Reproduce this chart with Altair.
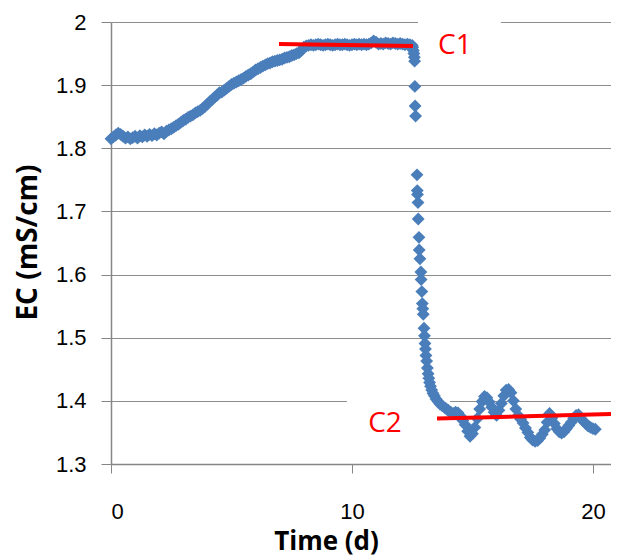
import altair as alt
import pandas as pd

# ---- data ----
rise_t = [0.0, 0.1, 0.2, 0.3, 0.4, 0.5, 0.6, 0.7, 0.8, 0.9, 1.0,
          1.1, 1.2, 1.3, 1.4, 1.5, 1.6, 1.7, 1.8, 1.9, 2.0,
          2.1, 2.2, 2.3, 2.4, 2.5, 2.6, 2.7, 2.8, 2.9, 3.0,
          3.1, 3.2, 3.3, 3.4, 3.5, 3.6, 3.7, 3.8, 3.9, 4.0,
          4.1, 4.2, 4.3, 4.4, 4.5, 4.6, 4.7, 4.8, 4.9, 5.0,
          5.1, 5.2, 5.3, 5.4, 5.5, 5.6, 5.7, 5.8, 5.9, 6.0,
          6.1, 6.2, 6.3, 6.4, 6.5, 6.6, 6.7, 6.8, 6.9, 7.0,
          7.1, 7.2, 7.3, 7.4, 7.5, 7.6, 7.7, 7.8, 7.9, 8.0]
rise_ec = [1.815, 1.818, 1.821, 1.824, 1.822, 1.819, 1.816, 1.818, 1.815, 1.817, 1.819,
           1.816, 1.820, 1.818, 1.821, 1.819, 1.822, 1.820, 1.823, 1.821, 1.824,
           1.826, 1.823, 1.827, 1.829, 1.831, 1.833, 1.836, 1.838, 1.841, 1.844,
           1.846, 1.849, 1.851, 1.853, 1.856, 1.858, 1.860, 1.863, 1.866, 1.870,
           1.874, 1.877, 1.881, 1.884, 1.888, 1.889, 1.892, 1.895, 1.898, 1.901,
           1.903, 1.905, 1.907, 1.909, 1.911, 1.914, 1.916, 1.918, 1.921, 1.924,
           1.926, 1.928, 1.930, 1.932, 1.934, 1.935, 1.937, 1.938, 1.939, 1.940,
           1.941, 1.943, 1.944, 1.945, 1.947, 1.948, 1.950, 1.951, 1.955, 1.960]

plateau_t = [8.1, 8.2, 8.3, 8.4, 8.5, 8.6, 8.7, 8.8, 8.9, 9.0,
             9.1, 9.2, 9.3, 9.4, 9.5, 9.6, 9.7, 9.8, 9.9, 10.0,
             10.1, 10.2, 10.3, 10.4, 10.5, 10.6, 10.7, 10.8, 10.9, 11.0,
             11.1, 11.2, 11.3, 11.4, 11.5, 11.6, 11.7, 11.8, 11.9, 12.0,
             12.1, 12.2, 12.3, 12.4, 12.5]
plateau_ec = [1.962, 1.963, 1.964, 1.963, 1.964, 1.965, 1.964, 1.963, 1.964, 1.965,
              1.964, 1.963, 1.964, 1.965, 1.964, 1.964, 1.965, 1.964, 1.963, 1.964,
              1.965, 1.964, 1.965, 1.964, 1.965, 1.964, 1.965, 1.967, 1.970, 1.968,
              1.965, 1.966, 1.965, 1.967, 1.966, 1.965, 1.967, 1.966, 1.965, 1.966,
              1.965, 1.964, 1.965, 1.964, 1.963]

drop_t = [12.52, 12.55, 12.57, 12.59, 12.60, 12.61, 12.62, 12.64, 12.70, 12.71,
          12.72, 12.74, 12.75, 12.78, 12.79, 12.82, 12.86, 12.87, 12.90, 12.92,
          12.94, 12.96, 12.99, 13.01, 13.03, 13.05, 13.07, 13.10, 13.13, 13.16,
          13.19, 13.22, 13.26, 13.31, 13.36, 13.42, 13.49, 13.57, 13.65, 13.75,
          13.86, 13.95]
drop_ec = [1.960, 1.955, 1.950, 1.944, 1.938, 1.898, 1.867, 1.851, 1.758, 1.733,
           1.727, 1.714, 1.688, 1.659, 1.639, 1.625, 1.604, 1.592, 1.573, 1.554,
           1.546, 1.537, 1.515, 1.503, 1.491, 1.482, 1.472, 1.463, 1.452, 1.443,
           1.436, 1.429, 1.423, 1.417, 1.412, 1.408, 1.403, 1.399, 1.395, 1.392,
           1.389, 1.386]

tail_t = [14.0, 14.1, 14.2, 14.3, 14.4, 14.5, 14.6, 14.7, 14.8, 14.9,
          15.0, 15.1, 15.2, 15.3, 15.4, 15.5, 15.6, 15.7, 15.8, 15.9,
          16.0, 16.1, 16.2, 16.3, 16.4, 16.5, 16.6, 16.7, 16.8, 16.9,
          17.0, 17.1, 17.2, 17.3, 17.4, 17.5, 17.6, 17.7, 17.8, 17.9,
          18.0, 18.1, 18.2, 18.3, 18.4, 18.5, 18.6, 18.7, 18.8, 18.9,
          19.0, 19.1, 19.2, 19.3, 19.4, 19.5, 19.6, 19.7, 19.8, 19.9,
          20.0, 20.1]
tail_ec = [1.385, 1.382, 1.380, 1.382, 1.381, 1.376, 1.369, 1.362, 1.352, 1.344,
           1.348, 1.358, 1.372, 1.387, 1.399, 1.407, 1.405, 1.398, 1.390, 1.382,
           1.377, 1.385, 1.396, 1.408, 1.417, 1.418, 1.413, 1.400, 1.387, 1.377,
           1.371, 1.365, 1.357, 1.350, 1.342, 1.338, 1.336, 1.337, 1.341, 1.347,
           1.354, 1.366, 1.380, 1.373, 1.364, 1.356, 1.351, 1.349, 1.351, 1.356,
           1.361, 1.366, 1.372, 1.377, 1.378, 1.372, 1.368, 1.364, 1.360, 1.358,
           1.356, 1.355]

# red reference lines C1, C2
line_name = ["C1", "C1", "C2", "C2"]
line_t = [6.97, 12.53, 13.53, 20.75]
line_ec = [1.965, 1.962, 1.372, 1.379]

# labels
label_text = ["C1", "C2"]
label_t = [14.27, 11.37]
label_ec = [1.962, 1.363]

# white label boxes (cover grid lines)
box_t0 = [12.74, 9.79]
box_t1 = [16.18, 14.07]
box_ec0 = [1.93, 1.36]
box_ec1 = [2.0, 1.42]

x_ticks = [0, 10, 20]
y_ticks = [1.3, 1.4, 1.5, 1.6, 1.7, 1.8, 1.9, 2.0]

# ---- build tables ----
pts = pd.DataFrame({
    "t": rise_t + plateau_t + drop_t + tail_t,
    "ec": rise_ec + plateau_ec + drop_ec + tail_ec,
})
lines = pd.DataFrame({"name": line_name, "t": line_t, "ec": line_ec})
labels = pd.DataFrame({"text": label_text, "t": label_t, "ec": label_ec})
boxes = pd.DataFrame({"t0": box_t0, "t1": box_t1, "e0": box_ec0, "e1": box_ec1})

FONT = "Open Sans"
LABEL_FONT = "Liberation Sans"

xscale = alt.Scale(domain=[0, 20.75], nice=False, zero=False)
yscale = alt.Scale(domain=[1.3, 2.0], nice=False, zero=False)

xaxis = alt.Axis(
    values=x_ticks, title="Time (d)", grid=False,
    tickSize=9, tickColor="#868686", domainColor="#868686", domainWidth=1.5,
    labelFontSize=22, labelFont=LABEL_FONT, labelColor="#000000", labelPadding=28,
    titleFont=FONT, titleFontSize=26, titleFontWeight="bold", titleColor="#000000",
    titleX=215, titleY=77, titleAlign="center", titleBaseline="middle",
)
yaxis = alt.Axis(
    values=y_ticks, title="EC (mS/cm)", format=".1~f",
    grid=True, gridColor="#8c8c8c", gridWidth=1.2,
    tickSize=10, tickColor="#868686", domainColor="#868686", domainWidth=1.5,
    labelFontSize=22, labelFont=LABEL_FONT, labelColor="#000000", labelPadding=15,
    titleFont=FONT, titleFontSize=28, titleFontWeight="bold", titleColor="#000000",
    titleX=-83, titleY=220, titleAngle=270, titleAlign="center", titleBaseline="middle",
)

box_layer = alt.Chart(boxes).mark_rect(color="white").encode(
    x=alt.X("t0:Q", scale=xscale, axis=xaxis),
    x2="t1:Q",
    y=alt.Y("e0:Q", scale=yscale, axis=yaxis),
    y2="e1:Q",
)

pts_layer = alt.Chart(pts).mark_point(
    shape="diamond", filled=True, size=165, color="#4a7ebb", opacity=1
).encode(
    x=alt.X("t:Q", scale=xscale, axis=xaxis),
    y=alt.Y("ec:Q", scale=yscale, axis=yaxis),
)

line_layer = alt.Chart(lines).mark_line(color="#ff0000", strokeWidth=4).encode(
    x=alt.X("t:Q", scale=xscale),
    y=alt.Y("ec:Q", scale=yscale),
    detail="name:N",
)

text_layer = alt.Chart(labels).mark_text(
    color="#ff0000", fontSize=28, font=FONT, align="center", baseline="middle"
).encode(
    x=alt.X("t:Q", scale=xscale),
    y=alt.Y("ec:Q", scale=yscale),
    text="text:N",
)

chart = alt.layer(box_layer, pts_layer, line_layer, text_layer).properties(
    width=500, height=442,
    padding={"left": 103, "top": 14, "right": 0, "bottom": 92},
    autosize=alt.AutoSizeParams(type="none"),
).configure_view(strokeWidth=0)

chart.save("out.html", embed_options={"renderer": "svg", "actions": False})
